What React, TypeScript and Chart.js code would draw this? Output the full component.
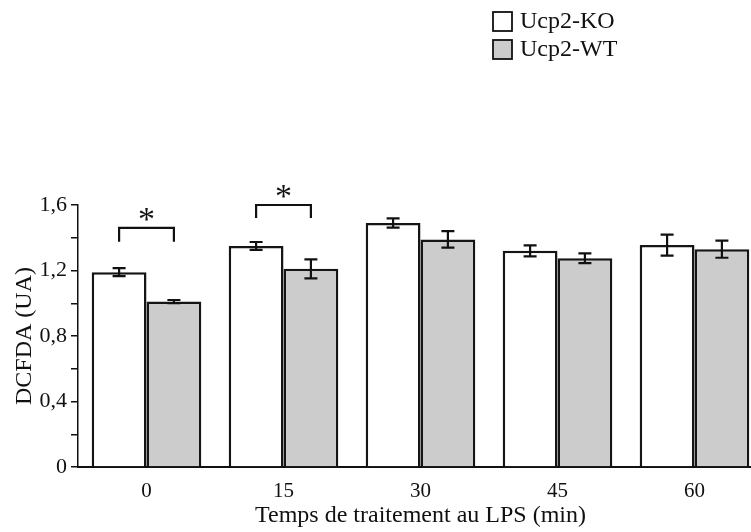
import React, { useEffect, useRef } from "react";
import { Chart, registerables } from "chart.js";

Chart.register(...registerables);

const categories = ["0", "15", "30", "45", "60"];
const seriesLabels = ["Ucp2-KO", "Ucp2-WT"];
const koValues = [1.19, 1.35, 1.49, 1.32, 1.355];
const koErrors = [0.024, 0.024, 0.028, 0.034, 0.064];
const wtValues = [1.01, 1.21, 1.39, 1.275, 1.33];
const wtErrors = [0.01, 0.058, 0.05, 0.03, 0.052];
// significance brackets: group index, bracket top value, leg bottom value
const sigGroups = [0, 1];
const sigTop = [1.46, 1.6];
const sigLegBottom = [1.375, 1.52];
const sigLabels = ["*", "*"];
const yTickValues = [0, 0.4, 0.8, 1.2, 1.6];

const FONT = "'Liberation Serif', 'Times New Roman', serif";

const errorBarPlugin = {
  id: "errorBars",
  afterDatasetsDraw(chart: any) {
    const ctx = chart.ctx;
    const yScale = chart.scales.y;
    const errs = [koErrors, wtErrors];
    ctx.save();
    ctx.strokeStyle = "#111";
    ctx.lineWidth = 2.2;
    chart.data.datasets.forEach((ds: any, di: number) => {
      const meta = chart.getDatasetMeta(di);
      meta.data.forEach((el: any, i: number) => {
        const v = ds.data[i];
        const e = errs[di][i];
        const yt = yScale.getPixelForValue(v + e);
        const yb = yScale.getPixelForValue(v - e);
        const x = el.x;
        const cap = 6.5;
        ctx.beginPath();
        ctx.moveTo(x, yt);
        ctx.lineTo(x, yb);
        ctx.moveTo(x - cap, yt);
        ctx.lineTo(x + cap, yt);
        ctx.moveTo(x - cap, yb);
        ctx.lineTo(x + cap, yb);
        ctx.stroke();
      });
    });
    ctx.restore();
  },
};

const bracketPlugin = {
  id: "brackets",
  afterDatasetsDraw(chart: any) {
    const ctx = chart.ctx;
    const yScale = chart.scales.y;
    const m0 = chart.getDatasetMeta(0);
    const m1 = chart.getDatasetMeta(1);
    ctx.save();
    ctx.strokeStyle = "#111";
    ctx.lineWidth = 2.2;
    sigGroups.forEach((g, k) => {
      const x1 = m0.data[g].x;
      const x2 = m1.data[g].x;
      const yt = yScale.getPixelForValue(sigTop[k]);
      const yb = yScale.getPixelForValue(sigLegBottom[k]);
      ctx.beginPath();
      ctx.moveTo(x1, yb);
      ctx.lineTo(x1, yt);
      ctx.lineTo(x2, yt);
      ctx.lineTo(x2, yb);
      ctx.stroke();
      ctx.fillStyle = "#111";
      ctx.font = `34px ${FONT}`;
      ctx.textAlign = "center";
      ctx.textBaseline = "alphabetic";
      ctx.fillText(sigLabels[k], (x1 + x2) / 2, yt + 2);
    });
    ctx.restore();
  },
};

const legendPlugin = {
  id: "customLegend",
  afterDraw(chart: any) {
    const ctx = chart.ctx;
    ctx.save();
    chart.data.datasets.forEach((ds: any, i: number) => {
      const bx = 493;
      const by = 12 + i * 28;
      ctx.fillStyle = ds.backgroundColor;
      ctx.fillRect(bx, by, 19, 19);
      ctx.strokeStyle = "#111";
      ctx.lineWidth = 1.8;
      ctx.strokeRect(bx, by, 19, 19);
      ctx.fillStyle = "#111";
      ctx.font = `24px ${FONT}`;
      ctx.textAlign = "left";
      ctx.textBaseline = "middle";
      ctx.fillText(ds.label, 520, by + 10);
    });
    ctx.restore();
  },
};

export default function App() {
  const ref = useRef<HTMLCanvasElement | null>(null);
  useEffect(() => {
    if (!ref.current) return;
    const chart = new Chart(ref.current, {
      type: "bar",
      data: {
        labels: categories,
        datasets: [
          {
            label: seriesLabels[0],
            data: koValues,
            backgroundColor: "#ffffff",
            borderColor: "#151515",
            borderWidth: 2.5,
            categoryPercentage: 0.8,
            barPercentage: 1.0,
          },
          {
            label: seriesLabels[1],
            data: wtValues,
            backgroundColor: "#cccccc",
            borderColor: "#151515",
            borderWidth: 2.5,
            categoryPercentage: 0.8,
            barPercentage: 1.0,
          },
        ],
      },
      options: {
        responsive: false,
        animation: false,
        layout: { padding: { top: 205, right: 7, bottom: 0, left: 0 } },
        plugins: {
          legend: { display: false },
          tooltip: { enabled: false },
        },
        scales: {
          x: {
            grid: { display: false, drawTicks: false },
            border: { color: "#111", width: 2 },
            ticks: {
              color: "#111",
              font: { family: FONT, size: 21 },
              padding: 12,
            },
            title: {
              display: true,
              text: "Temps de traitement au LPS (min)",
              color: "#111",
              font: { family: FONT, size: 24 },
              padding: { top: 0, bottom: 2 },
            },
            afterFit(scale: any) {
              scale.height = 65;
            },
          },
          y: {
            min: 0,
            max: 1.6,
            grid: {
              display: true,
              drawOnChartArea: false,
              drawTicks: true,
              tickLength: 7,
              color: "#111",
              lineWidth: 1.5,
            },
            border: { color: "#111", width: 1.5 },
            ticks: {
              stepSize: 0.2,
              color: "#111",
              font: { family: FONT, size: 22 },
              padding: 4,
              callback(value: any) {
                const v = Number(value);
                const hit = yTickValues.find((t) => Math.abs(t - v) < 1e-6);
                if (hit === undefined) return "";
                return hit === 0 ? "0" : hit.toFixed(1).replace(".", ",");
              },
            },
            title: {
              display: true,
              text: "DCFDA (UA)",
              color: "#111",
              font: { family: FONT, size: 24 },
              padding: { top: 10, bottom: 0 },
            },
            afterFit(scale: any) {
              scale.width = 78;
            },
          },
        },
      },
      plugins: [errorBarPlugin, bracketPlugin, legendPlugin],
    });
    return () => chart.destroy();
  }, []);

  return (
    <div
      style={{
        position: "fixed",
        left: 0,
        top: 0,
        width: 751,
        height: 532,
        overflow: "hidden",
        background: "#fff",
      }}
    >
      <canvas ref={ref} width={770} height={532} style={{ display: "block" }} />
    </div>
  );
}
